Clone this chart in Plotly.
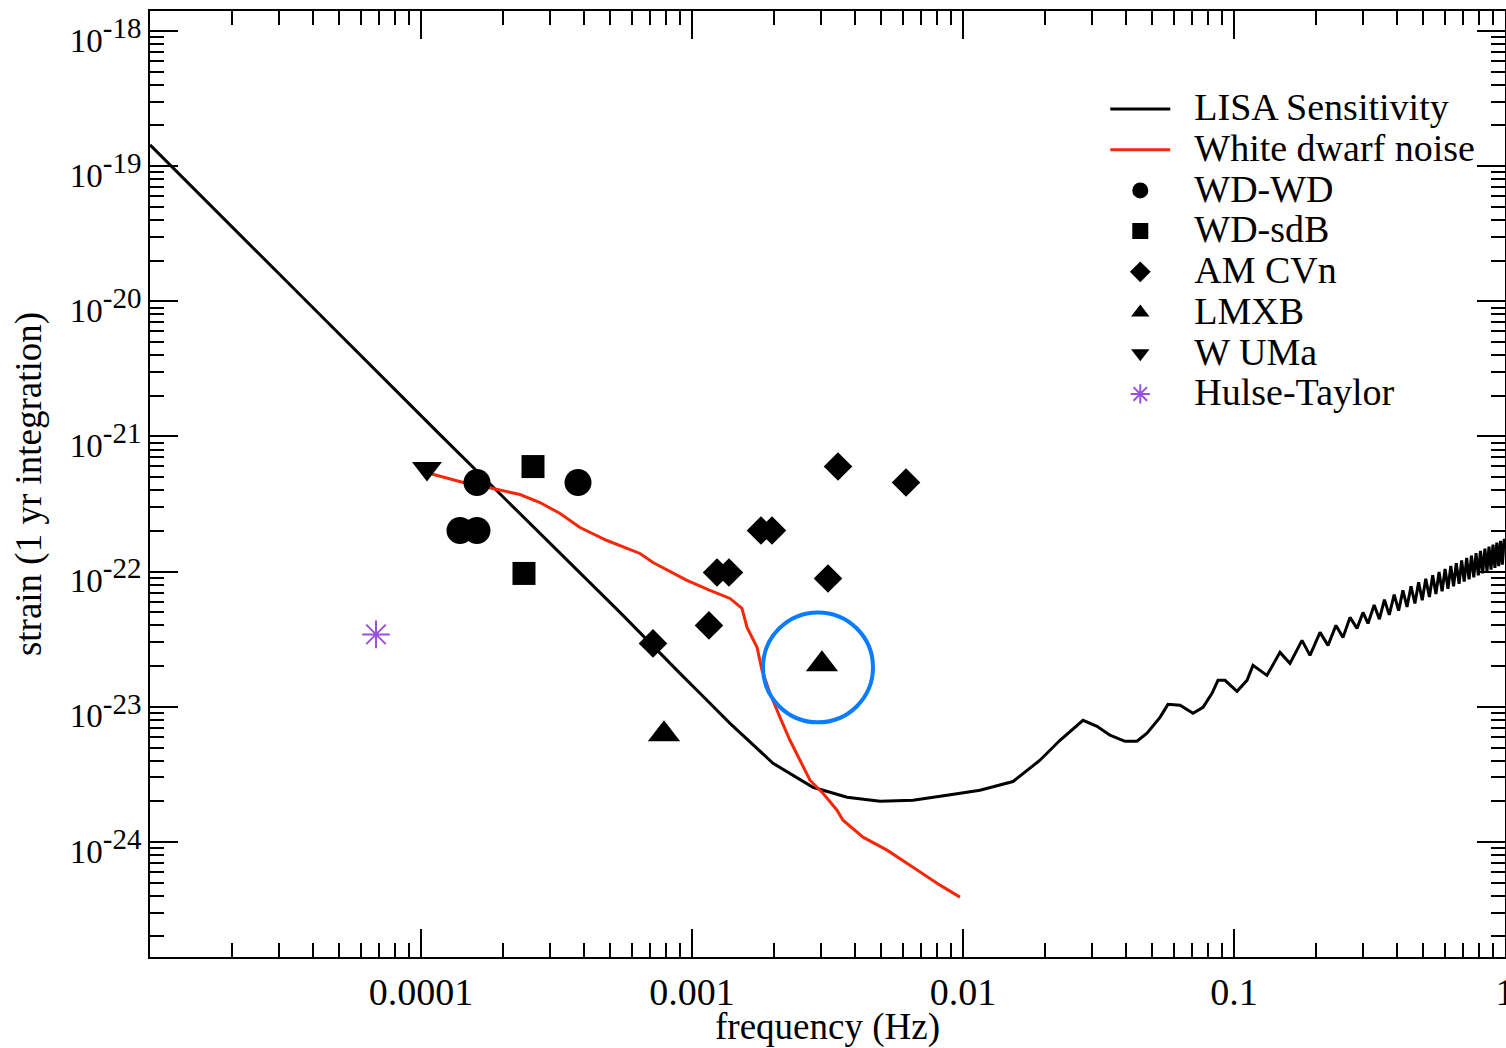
import plotly.graph_objects as go

# ---------------- data ----------------
lisa_f = [1.0e-5, 3.796e-5, 1.175e-4, 5.424e-4, 9.03e-4, 1.070e-3, 1.381e-3, 1.990e-3,
          2.795e-3, 3.733e-3, 4.940e-3, 6.539e-3, 8.730e-3, 1.155e-2, 1.529e-2, 1.923e-2,
          2.280e-2, 2.772e-2, 3.123e-2, 3.486e-2, 3.961e-2, 4.385e-2, 4.775e-2, 5.332e-2,
          5.706e-2, 6.324e-2, 7.060e-2, 7.685e-2, 8.296e-2, 8.729e-2, 9.265e-2, 0.1026,
          0.1117, 0.1175, 0.1323, 0.1478, 0.1609, 0.1782, 0.1907, 0.2077, 0.2223, 0.2378,
          0.2525, 0.2679, 0.2844, 0.2992, 0.3122,
          0.329, 0.344, 0.359, 0.374, 0.390, 0.405, 0.420, 0.435, 0.450, 0.465, 0.480,
          0.495, 0.510, 0.526, 0.541, 0.556, 0.571, 0.586, 0.601, 0.616, 0.631, 0.646,
          0.661, 0.677, 0.692, 0.707, 0.722, 0.737, 0.752, 0.767, 0.782, 0.797, 0.812,
          0.827, 0.843, 0.858, 0.873, 0.888, 0.903, 0.918, 0.933, 0.948, 0.963, 0.978,
          0.994, 1.0]
lisa_h = [1.437e-19, 9.93e-21, 1.033e-21, 4.994e-23, 1.768e-23, 1.259e-23, 7.55e-24, 3.823e-24,
          2.541e-24, 2.144e-24, 2.003e-24, 2.037e-24, 2.218e-24, 2.415e-24, 2.801e-24, 4.024e-24,
          5.654e-24, 7.95e-24, 7.18e-24, 6.16e-24, 5.56e-24, 5.56e-24, 6.37e-24, 8.36e-24,
          1.043e-23, 1.026e-23, 8.95e-24, 9.92e-24, 1.259e-23, 1.570e-23, 1.570e-23, 1.302e-23,
          1.570e-23, 2.026e-23, 1.709e-23, 2.528e-23, 2.096e-23, 3.100e-23, 2.402e-23, 3.553e-23,
          2.848e-23, 4.002e-23, 3.264e-23, 4.586e-23, 3.803e-23, 4.994e-23, 4.14e-23,
          5.675e-23, 4.446e-23, 6.20e-23, 4.786e-23, 6.75e-23, 5.14e-23, 7.27e-23, 5.476e-23,
          7.80e-23, 5.81e-23, 8.33e-23, 6.145e-23, 8.86e-23, 6.49e-23, 9.41e-23, 6.82e-23,
          9.94e-23, 7.145e-23, 1.047e-22, 7.47e-23, 1.100e-22, 7.79e-23, 1.154e-22, 8.127e-23,
          1.209e-22, 8.447e-23, 1.262e-22, 8.766e-23, 1.315e-22, 9.08e-23, 1.369e-22, 9.40e-23,
          1.422e-22, 9.71e-23, 1.477e-22, 1.004e-22, 1.531e-22, 1.035e-22, 1.585e-22, 1.066e-22,
          1.638e-22, 1.097e-22, 1.691e-22, 1.128e-22, 1.747e-22, 1.45e-22]

wd_noise_f = [1.079e-4, 1.478e-4, 1.843e-4, 2.319e-4, 2.748e-4, 3.259e-4, 3.861e-4, 4.857e-4,
              6.428e-4, 7.18e-4, 9.58e-4, 1.165e-3, 1.381e-3, 1.529e-3, 1.596e-3, 1.738e-3,
              1.813e-3, 1.940e-3, 2.112e-3, 2.299e-3, 2.503e-3, 2.725e-3, 3.043e-3, 3.428e-3,
              3.607e-3, 4.276e-3, 5.243e-3, 6.539e-3, 8.227e-3, 9.747e-3]
wd_noise_h = [5.317e-22, 4.486e-22, 4.12e-22, 3.72e-22, 3.247e-22, 2.692e-22, 2.121e-22, 1.70e-22,
              1.363e-22, 1.169e-22, 8.61e-23, 7.26e-23, 6.335e-23, 5.346e-23, 3.869e-23, 2.753e-23,
              1.862e-23, 1.259e-23, 8.36e-24, 5.654e-24, 4.024e-24, 2.863e-24, 2.295e-24, 1.718e-24,
              1.449e-24, 1.085e-24, 8.70e-25, 6.514e-25, 4.793e-25, 3.908e-25]

wdwd_f = [1.609e-4, 3.796e-4, 1.393e-4, 1.609e-4]
wdwd_h = [4.571e-22, 4.571e-22, 2.016e-22, 2.016e-22]

wdsdb_f = [2.590e-4, 2.399e-4]
wdsdb_h = [5.99e-22, 9.70e-23]

amcvn_f = [3.457e-3, 6.163e-3, 1.797e-3, 1.973e-3, 1.237e-3, 1.369e-3, 3.176e-3, 1.155e-3, 7.18e-4]
amcvn_h = [5.99e-22, 4.571e-22, 2.016e-22, 2.016e-22, 9.86e-23, 9.86e-23, 8.91e-23, 4.002e-23, 2.946e-23]

lmxb_f = [3.017e-3, 7.882e-4]
lmxb_h = [2.061e-23, 6.26e-24]

wuma_f = [1.052e-4]
wuma_h = [5.79e-22]

hulse_f = [6.824e-5]
hulse_h = [3.435e-23]

# highlighted source (blue ring) extent
ring_f = [1.828e-3, 4.654e-3]
ring_h = [7.68e-24, 4.994e-23]

x_tick_vals = [1e-4, 1e-3, 1e-2, 1e-1, 1]
x_tick_text = ["0.0001", "0.001", "0.01", "0.1", "1"]
y_exps = [-18, -19, -20, -21, -22, -23, -24]
y_tick_vals = [10.0 ** e for e in y_exps]
y_tick_text = ['10<sup><span style="font-size:29px">%d</span></sup>' % e for e in y_exps]

# ---------------- figure ----------------
FONT = "Liberation Serif"
LEG = '<span style="font-size:38px">\u2002%s</span>'

fig = go.Figure()
fig.add_trace(go.Scatter(x=lisa_f, y=lisa_h, mode="lines", name=LEG % "LISA Sensitivity",
                         line=dict(color="black", width=3, simplify=False)))
fig.add_trace(go.Scatter(x=wd_noise_f, y=wd_noise_h, mode="lines", name=LEG % "White dwarf noise",
                         line=dict(color="#f5280a", width=3, simplify=False)))
fig.add_trace(go.Scatter(x=wdwd_f, y=wdwd_h, mode="markers", name=LEG % "WD-WD",
                         marker=dict(symbol="circle", size=27, color="black")))
fig.add_trace(go.Scatter(x=wdsdb_f, y=wdsdb_h, mode="markers", name=LEG % "WD-sdB",
                         marker=dict(symbol="square", size=23, color="black")))
fig.add_trace(go.Scatter(x=amcvn_f, y=amcvn_h, mode="markers", name=LEG % "AM CVn",
                         marker=dict(symbol="diamond", size=22, color="black")))
fig.add_trace(go.Scatter(x=lmxb_f, y=lmxb_h, mode="markers", name=LEG % "LMXB",
                         marker=dict(symbol="triangle-up", size=28, color="black")))
fig.add_trace(go.Scatter(x=wuma_f, y=wuma_h, mode="markers", name=LEG % "W UMa",
                         marker=dict(symbol="triangle-down", size=26, color="black")))
fig.add_trace(go.Scatter(x=hulse_f, y=hulse_h, mode="markers", name=LEG % "Hulse-Taylor",
                         marker=dict(symbol="asterisk-open", size=23, color="#9b4fdc",
                                     line=dict(color="#9b4fdc", width=2))))

fig.add_shape(type="circle", xref="x", yref="y",
              x0=ring_f[0], x1=ring_f[1], y0=ring_h[0], y1=ring_h[1],
              line=dict(color="#0a7cff", width=4))

minor_x = [k * 10.0 ** e for e in range(-5, 0) for k in range(2, 10)]
minor_y = [k * 10.0 ** e for e in range(-25, -17) for k in range(2, 10)]

fig.update_xaxes(type="log", range=[-5, 0], showgrid=False, zeroline=False,
                 showline=True, linecolor="black", linewidth=2, mirror="allticks",
                 ticks="inside", ticklen=28, tickwidth=2, tickcolor="black",
                 tickmode="array", tickvals=x_tick_vals, ticktext=x_tick_text,
                 ticklabeloverflow="allow",
                 tickfont=dict(family=FONT, size=38, color="black"),
                 minor=dict(ticks="inside", ticklen=14, tickwidth=2, tickcolor="black",
                            tickmode="array", tickvals=minor_x, showgrid=False),
                 title=dict(text="frequency (Hz)", font=dict(family=FONT, size=37, color="black"),
                            standoff=4))
fig.update_yaxes(type="log", range=[-24.851, -17.852], showgrid=False, zeroline=False,
                 showline=True, linecolor="black", linewidth=2, mirror="allticks",
                 ticks="inside", ticklen=28, tickwidth=2, tickcolor="black",
                 tickmode="array", tickvals=y_tick_vals, ticktext=y_tick_text,
                 tickfont=dict(family=FONT, size=33, color="black"),
                 ticklabelshift=9,
                 minor=dict(ticks="inside", ticklen=14, tickwidth=2, tickcolor="black",
                            tickmode="array", tickvals=minor_y, showgrid=False),
                 title=dict(text="strain (1 yr integration)",
                            font=dict(family=FONT, size=37, color="black"), standoff=17))

fig.update_layout(width=1506, height=1048,
                  margin=dict(l=150, r=1, t=11, b=91, autoexpand=False),
                  paper_bgcolor="white", plot_bgcolor="white",
                  font=dict(family=FONT, color="black"),
                  legend=dict(x=0.705, y=0.9232, xanchor="left", yanchor="top",
                              bgcolor="rgba(0,0,0,0)", borderwidth=0,
                              font=dict(family=FONT, size=29, color="black"),
                              itemwidth=60, tracegroupgap=0))

# remove the browser's default 8px body margin so the figure fills the window exactly
fig.write_html("out.html", config={"displayModeBar": False},
               post_script="document.body.style.margin='0px';document.body.style.overflow='hidden';")
